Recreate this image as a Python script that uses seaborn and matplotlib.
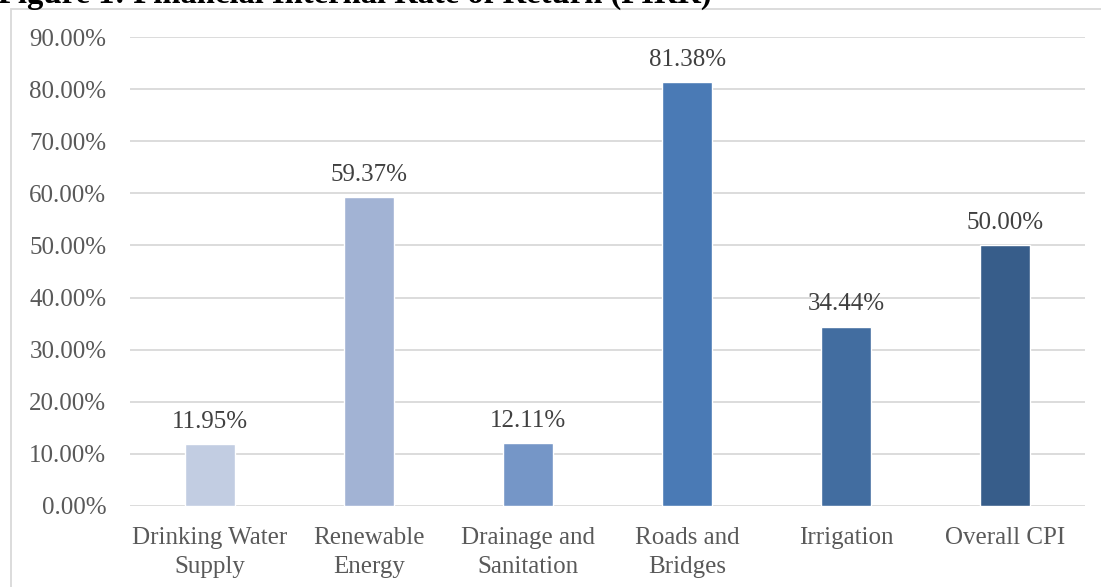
import matplotlib
matplotlib.use("Agg")
import matplotlib.pyplot as plt
import matplotlib.patches as mpatches
import seaborn as sns
import pandas as pd

# Financial internal rate of return by sector (percent)
categories = [
    "Drinking Water\nSupply",
    "Renewable\nEnergy",
    "Drainage and\nSanitation",
    "Roads and\nBridges",
    "Irrigation",
    "Overall CPI",
]
firr_values = [11.95, 59.37, 12.11, 81.38, 34.44, 50.00]
bar_colors = ["#c2cde2", "#a2b3d4", "#7596c7", "#4a7ab5", "#426da0", "#375d8a"]
y_ticks = [0, 10, 20, 30, 40, 50, 60, 70, 80, 90]

df = pd.DataFrame({"sector": categories, "firr": firr_values})

sns.set_theme(style="white")
plt.rcParams["font.family"] = ["Liberation Serif", "DejaVu Serif"]

W, H = 1101, 587
fig = plt.figure(figsize=(W / 100, H / 100), dpi=100)
ax = fig.add_axes([130 / W, 1 - 506 / H, (1085 - 130) / W, (506 - 37) / H])

sns.barplot(
    data=df, x="sector", y="firr", hue="sector", palette=bar_colors,
    width=0.315, dodge=False, legend=False, ax=ax, saturation=1,
)

ax.set_ylim(0, 90)
ax.set_xlim(-0.5, len(categories) - 0.5)
ax.set_yticks(y_ticks)
ax.set_yticklabels([f"{v:.2f}%" for v in y_ticks])
ax.yaxis.grid(True, color="#d9d9d9", linewidth=1.3)
ax.set_axisbelow(True)
for s in ax.spines.values():
    s.set_visible(False)
ax.set_xlabel("")
ax.set_ylabel("")
ax.tick_params(axis="y", length=0, pad=17, labelsize=18, labelcolor="#595959")
ax.tick_params(axis="x", length=0, pad=15, labelsize=18, labelcolor="#595959")
for lbl in ax.get_xticklabels():
    lbl.set_linespacing(1.45)

for i, v in enumerate(firr_values):
    ax.annotate(f"{v:.2f}%", (i, v), xytext=(0, 8), textcoords="offset points",
                ha="center", va="bottom", fontsize=18, color="#404040")

# Chart frame
frame = mpatches.Rectangle((11 / W, -0.1), 1.2, 1 - 8.5 / H + 0.1,
                           transform=fig.transFigure, fill=False,
                           edgecolor="#d9d9d9", linewidth=1.3, clip_on=False)
fig.patches.append(frame)

# Figure caption
fig.text(-2 / W, 1 - 3 / H, "Figure 1: Financial Internal Rate of Return (FIRR)",
         fontsize=23.5, fontweight="bold", color="black", ha="left", va="baseline")

fig.savefig("out.png", dpi=100)
